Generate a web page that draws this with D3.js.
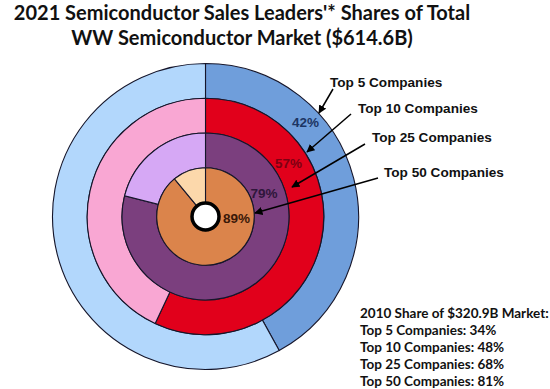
<!DOCTYPE html>
<html>
<head>
<meta charset="utf-8">
<script src="https://cdn.jsdelivr.net/npm/d3@7"></script>
<style>
  html, body { margin: 0; padding: 0; background: #fff; }
  svg { display: block; }
</style>
</head>
<body>
<svg id="chart" width="550" height="389"></svg>
<script>
// ---- data ----
const titleLines = ["2021 Semiconductor Sales Leaders'* Shares of Total", "WW Semiconductor Market ($614.6B)"];
const groups = ["Top 5 Companies", "Top 10 Companies", "Top 25 Companies", "Top 50 Companies"];
const share2021 = [42, 57, 79, 89];
const share2010 = [34, 48, 68, 81];
const notesTitle = "2010 Share of $320.9B Market:";
const fillColors = ["#6f9edb", "#e1001b", "#7b3f7e", "#db844b"];
const restColors = ["#b2d7fc", "#f9a7d3", "#d6a8f5", "#fcd8ab"];
const labelColors = ["#1c3563", "#7d0012", "#2f163b", "#3a1808"];

// ---- layout ----
const svg = d3.select("#chart");
const cx = 205.5, cy = 216.5;
const rScale = d3.scaleLinear().domain([0, groups.length]).range([153, 14]);

svg.append("g").selectAll("text").data(titleLines).join("text")
  .attr("x", 242).attr("y", (d, i) => 19.5 + i * 25)
  .attr("text-anchor", "middle")
  .attr("font-family", "Lato, 'Open Sans', sans-serif")
  .attr("font-weight", "bold").attr("font-size", 20)
  .attr("fill", "#111")
  .text(d => d);

const pie = d3.pie().sort(null).value(d => d);
const g = svg.append("g").attr("transform", `translate(${cx},${cy})`);

groups.forEach((name, i) => {
  const arc = d3.arc().outerRadius(rScale(i)).innerRadius(rScale(i + 1));
  const slices = pie([share2021[i], 100 - share2021[i]]);
  g.append("g").selectAll("path").data(slices).join("path")
    .attr("d", arc)
    .attr("fill", (d, j) => j === 0 ? fillColors[i] : restColors[i])
    .attr("stroke", "#15152a").attr("stroke-width", 1.1);
});

// center hole
g.append("circle").attr("r", rScale(groups.length) - 0.5).attr("fill", "#fff")
  .attr("stroke", "#000").attr("stroke-width", 3.5);

// percentage labels
const labelPos = [[305.5, 122], [288.5, 163], [264, 193], [236.5, 218]];
svg.append("g").selectAll("text").data(share2021).join("text")
  .attr("x", (d, i) => labelPos[i][0]).attr("y", (d, i) => labelPos[i][1])
  .attr("dy", "0.35em").attr("text-anchor", "middle")
  .attr("font-family", "'Liberation Sans', Arial, sans-serif")
  .attr("font-weight", "bold").attr("font-size", 13.5)
  .attr("fill", (d, i) => labelColors[i])
  .text(d => d + "%");

// arrows
const defs = svg.append("defs");
defs.append("marker").attr("id", "ah").attr("viewBox", "0 0 10 10")
  .attr("refX", 9).attr("refY", 5).attr("markerWidth", 5.5).attr("markerHeight", 5.5)
  .attr("orient", "auto")
  .append("path").attr("d", "M0,0 L10,5 L0,10 z").attr("fill", "#000");

const arrowFrom = [[333, 89], [351, 114], [365, 144], [378, 178]];
const arrowTo = [[319, 113], [307, 152], [292, 187], [255, 213]];
const labelAnchor = [[330, 82], [358, 108], [372, 137], [384, 172]];

svg.append("g").selectAll("line").data(groups).join("line")
  .attr("x1", (d, i) => arrowFrom[i][0]).attr("y1", (d, i) => arrowFrom[i][1])
  .attr("x2", (d, i) => arrowTo[i][0]).attr("y2", (d, i) => arrowTo[i][1])
  .attr("stroke", "#000").attr("stroke-width", 1.5)
  .attr("marker-end", "url(#ah)");

svg.append("g").selectAll("text").data(groups).join("text")
  .attr("x", (d, i) => labelAnchor[i][0]).attr("y", (d, i) => labelAnchor[i][1])
  .attr("dy", "0.35em")
  .attr("font-family", "'Liberation Sans', Arial, sans-serif")
  .attr("font-weight", "bold").attr("font-size", 13.6)
  .attr("fill", "#111")
  .text(d => d);

// 2010 notes
const notes = [notesTitle].concat(groups.map((d, i) => `${d}: ${share2010[i]}%`));
svg.append("g").selectAll("text").data(notes).join("text")
  .attr("x", 360).attr("y", (d, i) => 318 + i * 17)
  .attr("font-family", "Lato, 'Open Sans', sans-serif")
  .attr("font-weight", "bold").attr("font-size", 13.5)
  .attr("fill", "#111")
  .text(d => d);
</script>
</body>
</html>
